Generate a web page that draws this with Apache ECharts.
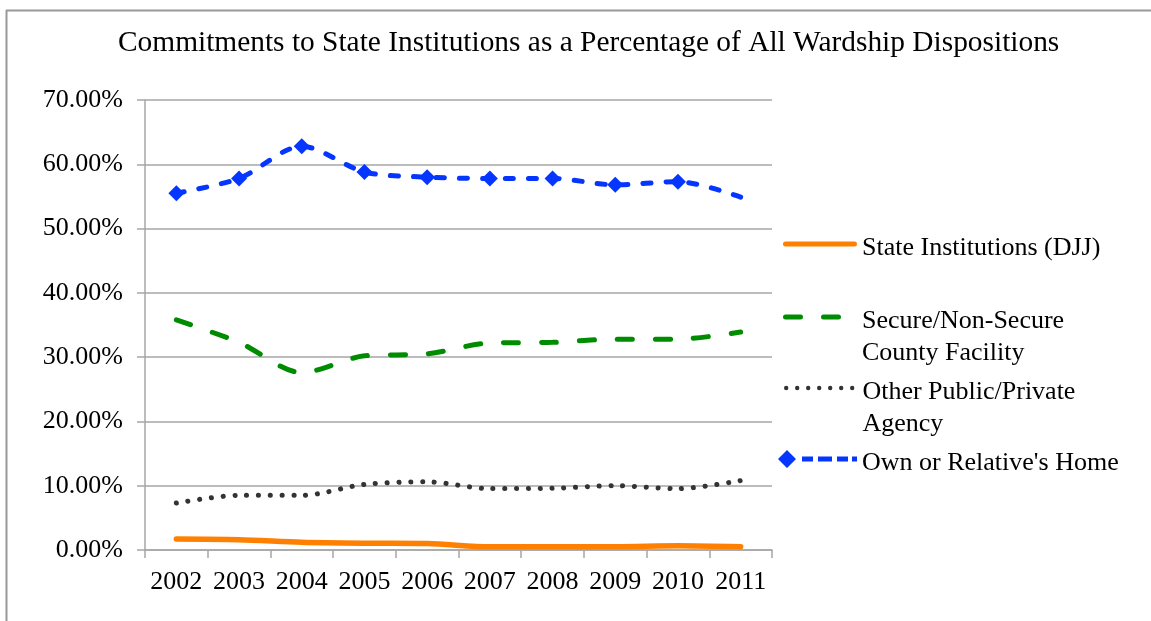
<!DOCTYPE html>
<html>
<head>
<meta charset="utf-8">
<script src="https://cdn.jsdelivr.net/npm/echarts@6/dist/echarts.min.js"></script>
<style>
html,body{margin:0;padding:0;background:#fff;}
#chart{width:1151px;height:621px;}
</style>
</head>
<body>
<div id="chart"></div>
<script>
const years = ['2002','2003','2004','2005','2006','2007','2008','2009','2010','2011'];
const stateInstitutions = [1.7, 1.6, 1.2, 1.05, 1.0, 0.5, 0.5, 0.5, 0.65, 0.5];
const countyFacility = [35.8, 32.3, 27.6, 30.2, 30.5, 32.2, 32.3, 32.8, 32.8, 33.9];
const otherAgency = [7.3, 8.5, 8.5, 10.2, 10.6, 9.55, 9.6, 10.0, 9.55, 10.8];
const ownHome = [55.5, 57.8, 62.8, 58.8, 58.0, 57.8, 57.8, 56.8, 57.3, 54.9];
const seriesNames = ['State Institutions (DJJ)', 'Secure/Non-Secure County Facility', 'Other Public/Private Agency', "Own or Relative's Home"];
const legendLabels = ['State Institutions (DJJ)', '\nSecure/Non-Secure\nCounty Facility', '\nOther Public/Private\nAgency', "Own or Relative's Home"];
const yTicks = [0, 10, 20, 30, 40, 50, 60, 70];

const FONT = 'Liberation Serif';
const GRID_COLOR = '#a6a6a6';
const C_ORANGE = '#ff8000';
const C_GREEN = '#008c00';
const C_DOT = '#333333';
const C_BLUE = '#0536ff';
const ICON_LIFT = 8;

const chart = echarts.init(document.getElementById('chart'));

// a tiny point below the visible icon so the icon sits slightly above the text's centre
function lifted(path, w, h) {
  const y = h + ICON_LIFT;
  return 'path://' + path + ` M${w - 0.01},${y} L${w},${y} L${w},${y - 0.01} Z`;
}

function legendFor(idx, left, top, icon, w, h, padLeft) {
  return {
    data: [{name: seriesNames[idx], icon: lifted(icon, w, h)}],
    left: left,
    top: top,
    padding: 0,
    itemWidth: w,
    itemHeight: h + ICON_LIFT,
    selectedMode: false,
    formatter: () => legendLabels[idx],
    textStyle: {
      fontFamily: FONT, fontSize: 26, color: '#000', lineHeight: 32,
      padding: [0, 0, 0, padLeft]
    }
  };
}

const orangeIcon = 'M2.5,0 L71.5,0 A2.5,2.5 0 0,1 71.5,5 L2.5,5 A2.5,2.5 0 0,1 2.5,0 Z';
const greenIcon = 'M2.5,0 L17.5,0 A2.5,2.5 0 0,1 17.5,5 L2.5,5 A2.5,2.5 0 0,1 2.5,0 Z M40.5,0 L55.5,0 A2.5,2.5 0 0,1 55.5,5 L40.5,5 A2.5,2.5 0 0,1 40.5,0 Z M57.99,0 L58,0 L58,0.01 Z';
const dotIcon = [0, 1, 2, 3, 4, 5, 6].map(i => {
  const cx = 2.2 + i * 11;
  return `M${cx - 2.2},2.2 A2.2,2.2 0 1,0 ${cx + 2.2},2.2 A2.2,2.2 0 1,0 ${cx - 2.2},2.2 Z`;
}).join(' ');
const diamondIcon = 'M0,9 L9,0 L18,9 L9,18 Z M24,6.5 L35,6.5 L35,11.5 L24,11.5 Z M40,6.5 L54,6.5 L54,11.5 L40,11.5 Z M59,6.5 L70,6.5 L70,11.5 L59,11.5 Z M74,6.5 L79,6.5 L79,11.5 L74,11.5 Z';

const option = {
  backgroundColor: '#fff',
  animation: false,
  graphic: [
    {type: 'line', shape: {x1: 6, y1: 10.5, x2: 1151, y2: 10.5}, style: {stroke: '#999', lineWidth: 2}, silent: true},
    {type: 'line', shape: {x1: 6.5, y1: 10, x2: 6.5, y2: 621}, style: {stroke: '#999', lineWidth: 2}, silent: true}
  ],
  title: {
    text: 'Commitments to State Institutions as a Percentage of All Wardship Dispositions',
    left: 113,
    top: 24,
    textStyle: {fontFamily: FONT, fontSize: 29.4, fontWeight: 'normal', color: '#000'}
  },
  legend: [
    legendFor(0, 783, 232, orangeIcon, 74, 5, 0),
    legendFor(1, 783, 273, greenIcon, 58, 5, 16),
    legendFor(2, 784, 344, dotIcon, 70.4, 4.4, 3),
    legendFor(3, 778, 447, diamondIcon, 79, 18, 0)
  ],
  grid: {left: 145, right: 379, top: 100, bottom: 71, containLabel: false},
  xAxis: {
    type: 'category',
    data: years,
    boundaryGap: true,
    axisLine: {show: true, lineStyle: {color: GRID_COLOR, width: 1.5}},
    axisTick: {show: true, length: 8, lineStyle: {color: GRID_COLOR, width: 1.5}},
    axisLabel: {fontFamily: FONT, fontSize: 26, color: '#000', margin: 19, interval: 0}
  },
  yAxis: {
    type: 'value',
    min: 0, max: 70, interval: 10,
    axisLine: {show: true, lineStyle: {color: GRID_COLOR, width: 1.5}},
    axisTick: {show: true, length: 8, lineStyle: {color: GRID_COLOR, width: 1.5}},
    splitLine: {show: true, lineStyle: {color: GRID_COLOR, width: 1.5}},
    axisLabel: {fontFamily: FONT, fontSize: 26, color: '#000', margin: 22,
      formatter: v => yTicks.includes(v) ? v.toFixed(2) + '%' : ''}
  },
  series: [
    {
      name: seriesNames[0], type: 'line', data: stateInstitutions,
      symbol: 'none', smooth: 0.3,
      lineStyle: {color: C_ORANGE, width: 5.5, cap: 'round'},
      itemStyle: {color: C_ORANGE}
    },
    {
      name: seriesNames[1], type: 'line', data: countyFacility,
      symbol: 'none', smooth: 0.3,
      lineStyle: {color: C_GREEN, width: 5, type: [15, 23], cap: 'round'},
      itemStyle: {color: C_GREEN}
    },
    {
      name: seriesNames[2], type: 'line', data: otherAgency,
      symbol: 'none', smooth: 0.3,
      lineStyle: {color: C_DOT, width: 5, type: [0.1, 11.7], cap: 'round'},
      itemStyle: {color: C_DOT}
    },
    {
      name: seriesNames[3], type: 'line',
      data: ownHome.map((v, i) => i === ownHome.length - 1 ? {value: v, symbol: 'none'} : v),
      symbol: 'diamond', symbolSize: 16, smooth: 0.3,
      lineStyle: {color: C_BLUE, width: 5, type: [8, 15], cap: 'round'},
      itemStyle: {color: C_BLUE}
    }
  ]
};
chart.setOption(option);
</script>
</body>
</html>
